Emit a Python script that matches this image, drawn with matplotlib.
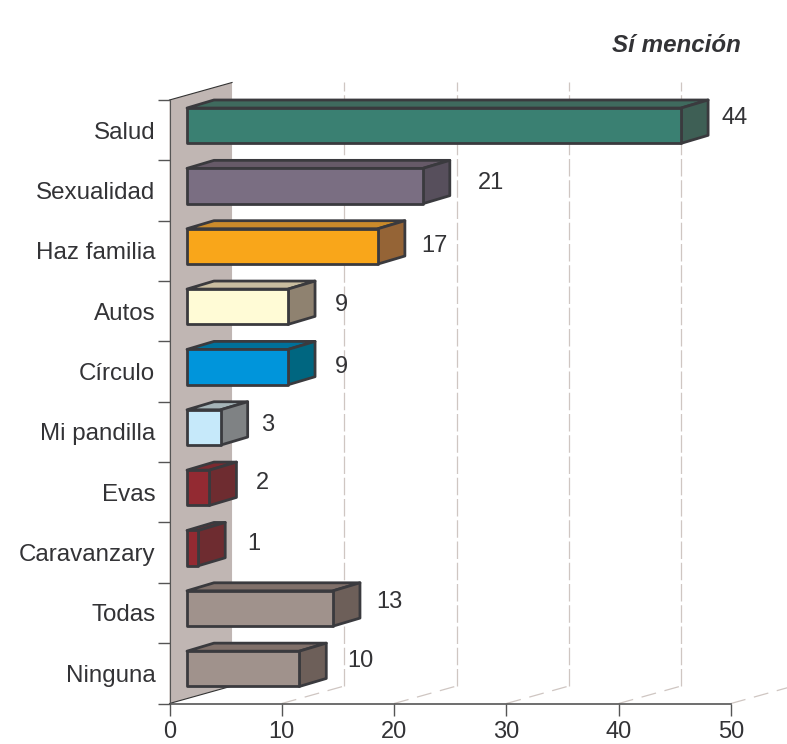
import matplotlib
matplotlib.use('Agg')
import matplotlib.pyplot as plt
from matplotlib.patches import Polygon

plt.rcParams['font.family'] = ['Liberation Sans', 'DejaVu Sans']

# datos, de arriba hacia abajo
categorias = ['Salud', 'Sexualidad', 'Haz familia', 'Autos', 'Círculo',
              'Mi pandilla', 'Evas', 'Caravanzary', 'Todas', 'Ninguna']
valores = [44, 21, 17, 9, 9, 3, 2, 1, 13, 10]
ticks_x = [0, 10, 20, 30, 40, 50]

# colores: frente, tapa, lado
col_frente = ['#3a8072', '#7a6e82', '#f9a61a', '#fffbd6', '#0095db',
              '#c6e9fa', '#932a32', '#932a32', '#a0928c', '#a0928c']
col_tapa = ['#3f6a5e', '#665a68', '#c98a2b', '#c9bda0', '#00709a',
            '#a5b4b8', '#7c2a30', '#7c2a30', '#80706a', '#80706a']
col_lado = ['#3e5f55', '#574f5c', '#956436', '#8f8270', '#006680',
            '#7f8284', '#6e2c30', '#6e2c30', '#6d5f59', '#6d5f59']

# posicion de las etiquetas de valor (no siguen una regla en el original)
etq_x = [50.36, 28.63, 23.55, 15.27, 15.27, 8.77, 8.24, 7.52, 19.55, 16.96]
etq_y = [9.70, 8.625, 7.575, 6.605, 5.575, 4.615, 3.655, 2.645, 1.68, 0.705]

# geometria del falso 3D, en unidades de datos
pared_dx, pared_dy = 5.57, 0.29
inicio = 1.56
barra_dx, barra_dy = 2.4, 0.133
abajo, arriba = 0.282, 0.867

texto = '#333336'
borde = '#3a3a3e'
malla = '#cfc6c2'
n = len(categorias)

fig = plt.figure(figsize=(7.87, 7.44), dpi=100)
ax = fig.add_axes([169.5 / 787, (744 - 703.5) / 744, 561.5 / 787, 603.5 / 744])
ax.set_xlim(0, 50)
ax.set_ylim(0, n)

# pared del fondo
ax.add_patch(Polygon([(0, 0), (pared_dx, pared_dy), (pared_dx, n + pared_dy), (0, n)],
                     closed=True, fc='#c0b6b3', ec='none', clip_on=False, zorder=1))
ax.plot([0, pared_dx], [0, pared_dy], color='#333333', lw=0.8, clip_on=False, zorder=1.5)
ax.plot([0, pared_dx], [n, n + pared_dy], color='#333333', lw=0.8, clip_on=False, zorder=1.5)

# malla punteada
for t in ticks_x[1:]:
    ax.plot([t, t + pared_dx], [0, pared_dy], color=malla, lw=0.9,
            ls=(0, (12, 7)), clip_on=False, zorder=1.2)
    if t < 50:
        ax.plot([t + pared_dx] * 2, [pared_dy, n + pared_dy], color=malla, lw=0.9,
                ls=(0, (14, 3)), clip_on=False, zorder=1.2)

# barras
for i, v in enumerate(valores):
    y0 = n - 1 - i + abajo
    y1 = n - 1 - i + arriba
    x0 = inicio
    x1 = inicio + v
    caras = [
        ([(x0, y1), (x0 + barra_dx, y1 + barra_dy), (x1 + barra_dx, y1 + barra_dy), (x1, y1)], col_tapa[i]),
        ([(x1, y0), (x1 + barra_dx, y0 + barra_dy), (x1 + barra_dx, y1 + barra_dy), (x1, y1)], col_lado[i]),
        ([(x0, y0), (x1, y0), (x1, y1), (x0, y1)], col_frente[i]),
    ]
    for pts, c in caras:
        ax.add_patch(Polygon(pts, closed=True, fc=c, ec=borde, lw=2,
                             joinstyle='round', clip_on=False, zorder=3))
    ax.text(etq_x[i], etq_y[i], str(v), ha='center', va='center',
            fontsize=17, color=texto, zorder=4)

# ejes
for s in ['top', 'right']:
    ax.spines[s].set_visible(False)
ax.spines['left'].set_color('#555555')
ax.spines['bottom'].set_color('#555555')
ax.spines['bottom'].set_linewidth(1.2)
ax.set_xticks(ticks_x)
ax.tick_params(axis='x', length=8.3, width=1, color='#555555', pad=4.5,
               labelsize=17, labelcolor=texto)
ax.set_yticks(range(n + 1))
ax.set_yticklabels([])
ax.set_yticks([k + 0.5 for k in range(n)], minor=True)
ax.set_yticklabels(categorias[::-1], minor=True)
ax.tick_params(axis='y', which='major', length=8.3, width=1, color='#555555')
ax.tick_params(axis='y', which='minor', length=0, pad=10.2,
               labelsize=17.4, labelcolor=texto)

ax.text(50.9, 10.91, 'Sí mención', ha='right', va='center', fontsize=17.4,
        fontweight='bold', fontstyle='italic', color=texto)

fig.savefig('out.png', dpi=100)
